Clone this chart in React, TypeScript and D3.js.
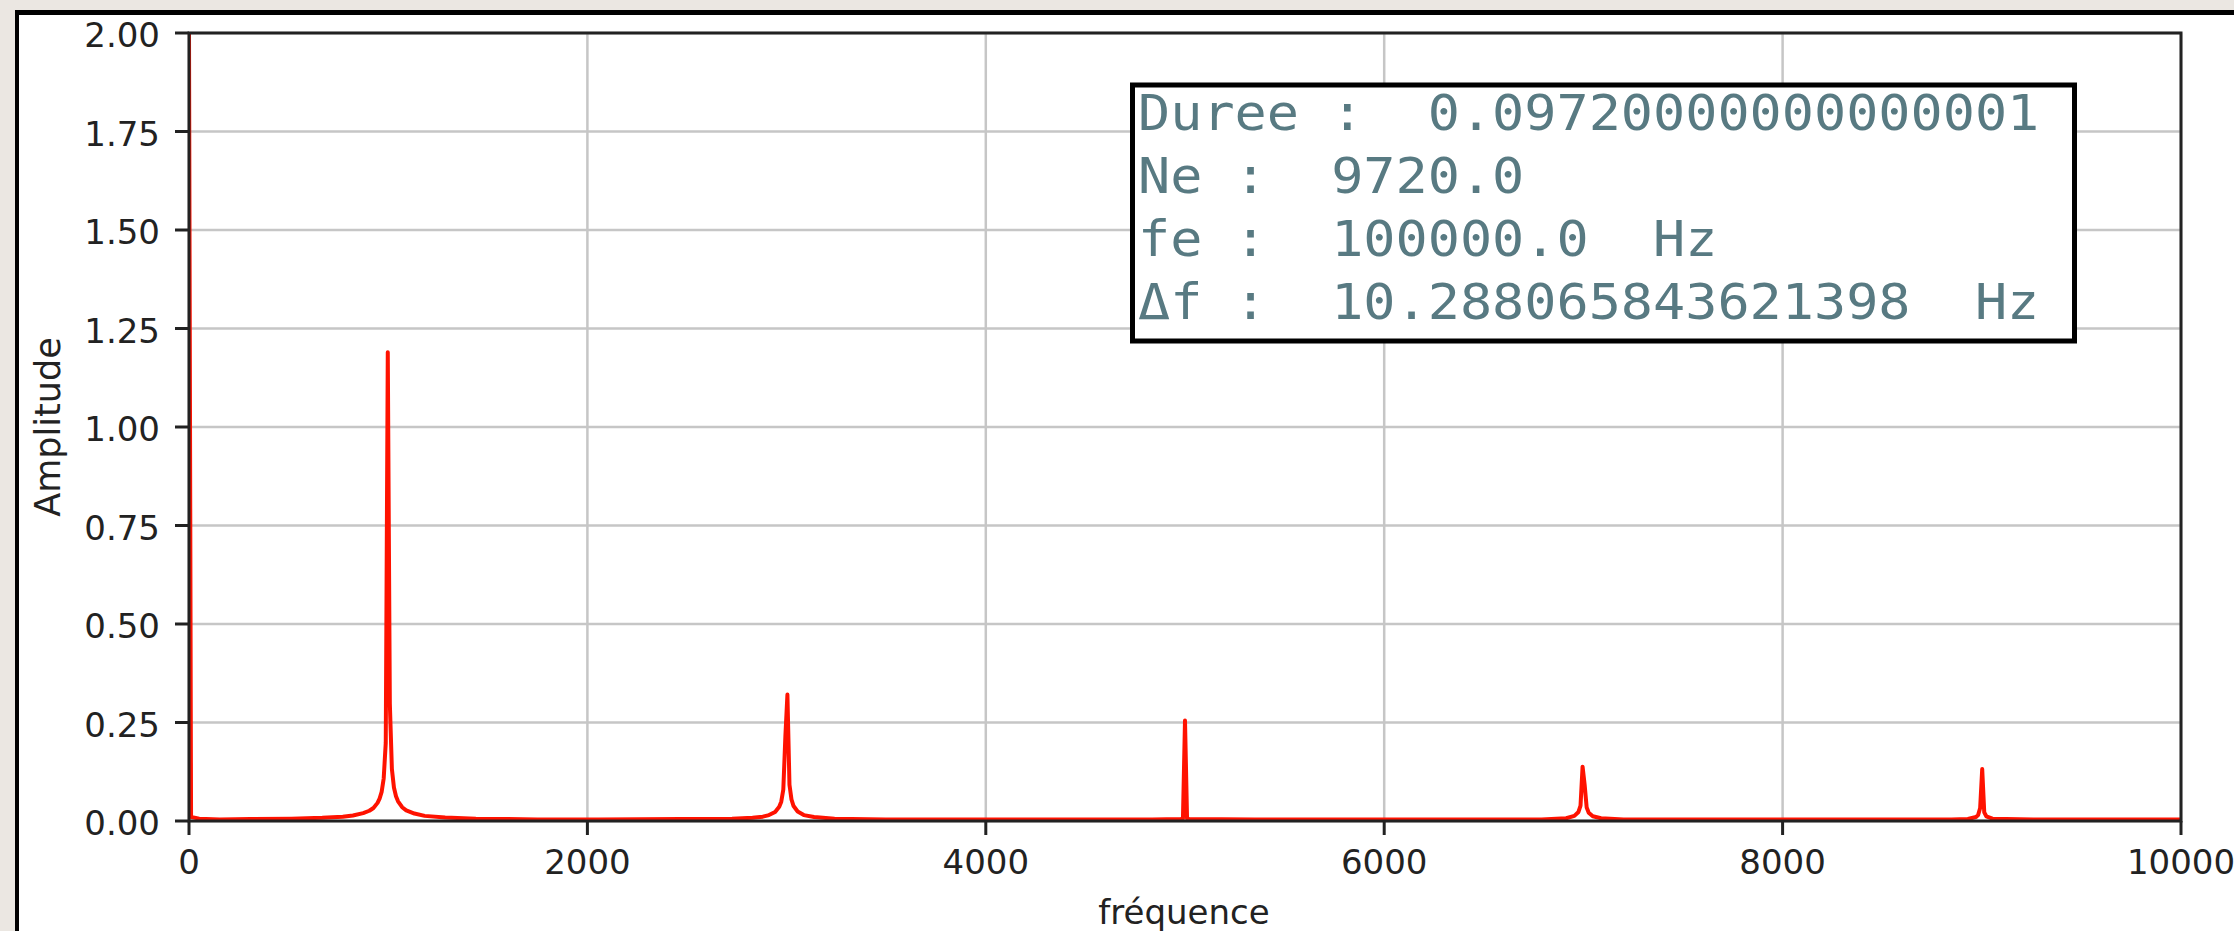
import React from "react";
import * as d3 from "d3";

// Spectrum samples (frequency in Hz, amplitude)
const freqHz = [
  0, 10.3, 51.4, 154, 309, 514, 669, 772, 823, 874.5, 905.3, 926, 946.5, 956.8, 967.1, 977.4, 987.7,
  997.9, 1008.2, 1018.5, 1028.8, 1039.1, 1049.4, 1070, 1090.5, 1131.7, 1183.1, 1286, 1440, 1749,
  2057.6, 2469, 2726, 2829, 2880.6, 2911.5, 2942.4, 2963, 2973.2, 2983.5, 2993.8, 3004.1, 3014.4,
  3024.7, 3035, 3055.5, 3086.4, 3137.8, 3240.7, 3498, 4115, 4835, 4979.4, 4989.7, 5000, 5010.3,
  5020.5, 5349.8, 6172.8, 6790, 6913.5, 6954.7, 6975.3, 6985.6, 6995.9, 7006.2, 7016.5, 7026.7,
  7047.3, 7088.5, 7201.6, 8024.7, 8847.7, 8930, 8971, 8981.4, 8991.7, 9002, 9012.3, 9022.6, 9053.5,
  9259.3, 10000, 10082,
];
const amplitude = [
  2.0, 0.01, 0.006, 0.004, 0.005, 0.006, 0.008, 0.011, 0.014, 0.02, 0.026, 0.033, 0.046, 0.057, 0.074,
  0.108, 0.198, 1.19, 0.298, 0.132, 0.085, 0.063, 0.05, 0.035, 0.027, 0.019, 0.013, 0.009, 0.006, 0.004,
  0.004, 0.005, 0.006, 0.008, 0.011, 0.015, 0.023, 0.036, 0.049, 0.08, 0.214, 0.321, 0.092, 0.054, 0.038,
  0.024, 0.015, 0.01, 0.006, 0.004, 0.004, 0.004, 0.005, 0.006, 0.255, 0.006, 0.005, 0.004, 0.004, 0.004,
  0.007, 0.013, 0.023, 0.039, 0.138, 0.092, 0.034, 0.021, 0.012, 0.007, 0.004, 0.004, 0.004, 0.005,
  0.01, 0.015, 0.033, 0.132, 0.022, 0.012, 0.006, 0.004, 0.004, 0.004,
];

const yTicks = [0, 0.25, 0.5, 0.75, 1.0, 1.25, 1.5, 1.75, 2.0];
const xTicks = [0, 2000, 4000, 6000, 8000, 10000];
const infoLines = [
  "Duree :  0.09720000000000001",
  "Ne :  9720.0",
  "fe :  100000.0  Hz",
  "\u0394f :  10.288065843621398  Hz",
];

const W = 2234;
const H = 931;
const L = 189, R = 2181, T = 33, B = 821;

export default function App() {
  const x = d3.scaleLinear().domain([0, 10000]).range([L, R]);
  const y = d3.scaleLinear().domain([0, 2]).range([B, T]);
  const pts = freqHz.map((f, i) => [f, amplitude[i]] as [number, number]);
  const line = d3
    .line<[number, number]>()
    .x((d) => x(d[0]))
    .y((d) => y(d[1]));
  const fmt = d3.format(".2f");
  const tickFont = "'DejaVu Sans', sans-serif";
  return (
    <svg
      width={W}
      height={H}
      style={{ position: "absolute", left: 0, top: 0 }}
      xmlns="http://www.w3.org/2000/svg"
    >
      <defs>
        <clipPath id="plotclip">
          <rect x={L} y={T} width={R - L} height={B - T} />
        </clipPath>
      </defs>
      <rect x={0} y={0} width={W} height={H} fill="#ebe7e2" />
      <rect x={15} y={10} width={W} height={H} fill="#000" />
      <rect x={19} y={15} width={W} height={H} fill="#fff" />

      {/* grid */}
      {yTicks.map((t) => (
        <line key={"gy" + t} x1={L} x2={R} y1={y(t)} y2={y(t)} stroke="#c6c6c6" strokeWidth={2.5} />
      ))}
      {xTicks.map((t) => (
        <line key={"gx" + t} x1={x(t)} x2={x(t)} y1={T} y2={B} stroke="#c6c6c6" strokeWidth={2.5} />
      ))}

      {/* data */}
      <path
        d={line(pts) || ""}
        fill="none"
        stroke="#ff1200"
        strokeWidth={4}
        strokeLinejoin="round"
        clipPath="url(#plotclip)"
      />

      {/* spines */}
      <rect x={L} y={T} width={R - L} height={B - T} fill="none" stroke="#222" strokeWidth={3} />

      {/* y ticks */}
      {yTicks.map((t) => (
        <g key={"ty" + t}>
          <line x1={L - 14} x2={L} y1={y(t)} y2={y(t)} stroke="#222" strokeWidth={3} />
          <text x={160} y={y(t) + 14} textAnchor="end" fontFamily={tickFont} fontSize={34} fill="#222">
            {fmt(t)}
          </text>
        </g>
      ))}
      {/* x ticks */}
      {xTicks.map((t) => (
        <g key={"tx" + t}>
          <line x1={x(t)} x2={x(t)} y1={B} y2={B + 14} stroke="#222" strokeWidth={3} />
          <text x={x(t)} y={874} textAnchor="middle" fontFamily={tickFont} fontSize={34} fill="#222">
            {t}
          </text>
        </g>
      ))}

      <text x={1184} y={924} textAnchor="middle" fontFamily={tickFont} fontSize={34} fill="#222">
        fréquence
      </text>
      <text
        transform={`translate(60,${(T + B) / 2}) rotate(-90)`}
        textAnchor="middle"
        fontFamily={tickFont}
        fontSize={35}
        fill="#222"
      >
        Amplitude
      </text>

      {/* info box */}
      <rect x={1132.5} y={85} width={942} height={256} fill="#fff" stroke="#000" strokeWidth={5} />
      {infoLines.map((s, i) => (
        <text
          key={"info" + i}
          transform={`translate(1138,${130 + i * 63}) scale(1.114,1.04)`}
          fontFamily="'DejaVu Sans Mono', monospace"
          fontSize={48}
          fill="#587a82"
          style={{ whiteSpace: "pre" }}
        >
          {s}
        </text>
      ))}
    </svg>
  );
}
